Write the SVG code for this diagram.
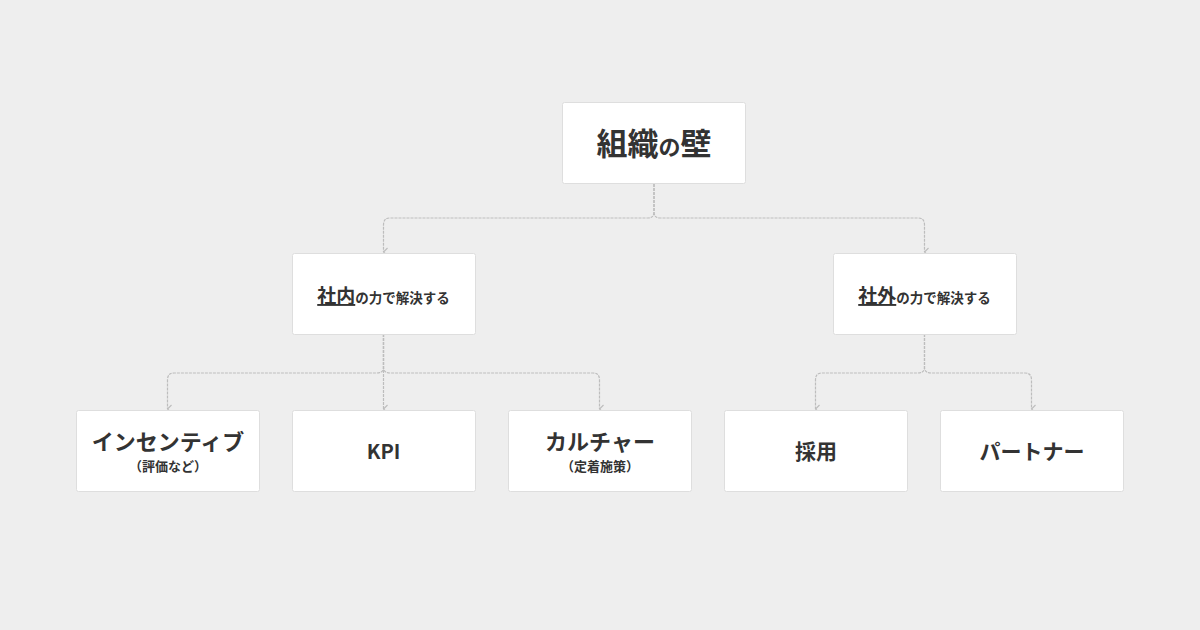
<svg xmlns="http://www.w3.org/2000/svg" width="1200" height="630" viewBox="0 0 1200 630">
<defs>
<style>
.box{fill:#fff;stroke:#dedede;stroke-width:1}
.t{font-family:"Noto Sans CJK JP","Noto Sans",sans-serif;fill:#333;font-weight:700;text-anchor:middle}
.c{fill:none;stroke:#bdbdbd;stroke-width:1.2;stroke-dasharray:3 1}
</style>
<marker id="a" viewBox="0 0 10 10" refX="5" refY="9" markerWidth="10" markerHeight="10" markerUnits="userSpaceOnUse" orient="auto-start-reverse">
<path d="M1,5 L5,9 L9,5" fill="none" stroke="#bdbdbd" stroke-width="1.2"/>
</marker>
</defs>
<rect width="1200" height="630" fill="#eeeeee"/>
<g id="connectors">
<path class="c" d="M654,184 V212 Q654,218 648,218 H390 Q383.5,218 383.5,225 V252" marker-end="url(#a)"/>
<path class="c" d="M654,184 V212 Q654,218 660,218 H918 Q924.5,218 924.5,225 V252" marker-end="url(#a)"/>
<path class="c" d="M383.5,334 V367 Q383.5,373 377,373 H174 Q167.5,373 167.5,380 V409" marker-end="url(#a)"/>
<path class="c" d="M383.5,334 V409" marker-end="url(#a)"/>
<path class="c" d="M383.5,334 V367 Q383.5,373 390,373 H593 Q599.5,373 599.5,380 V409" marker-end="url(#a)"/>
<path class="c" d="M924.5,334 V367 Q924.5,373 918,373 H822 Q815.5,373 815.5,380 V409" marker-end="url(#a)"/>
<path class="c" d="M924.5,334 V367 Q924.5,373 931,373 H1025 Q1031.5,373 1031.5,380 V409" marker-end="url(#a)"/>
</g>
<g id="root">
<rect class="box" x="562.5" y="102.5" width="183" height="81" rx="2"/>
<text class="t" x="654" y="155" font-size="31">組織<tspan font-size="22">の</tspan>壁</text>
</g>
<g id="internal">
<rect class="box" x="292.5" y="253.5" width="183" height="81" rx="2"/>
<text class="t" x="383.5" y="303" font-size="13.5" font-weight="500"><tspan font-size="19" font-weight="700" text-decoration="underline">社内</tspan>の力で解決する</text>
</g>
<g id="external">
<rect class="box" x="833.5" y="253.5" width="183" height="81" rx="2"/>
<text class="t" x="924.5" y="303" font-size="13.5" font-weight="500"><tspan font-size="19" font-weight="700" text-decoration="underline">社外</tspan>の力で解決する</text>
</g>
<g id="incentive">
<rect class="box" x="76.5" y="410.5" width="183" height="81" rx="2"/>
<text class="t" x="168" y="450" font-size="22">インセンティブ</text>
<text class="t" x="168" y="471" font-size="13">（評価など）</text>
</g>
<g id="kpi">
<rect class="box" x="292.5" y="410.5" width="183" height="81" rx="2"/>
<text class="t" x="383.5" y="459" font-size="20">KPI</text>
</g>
<g id="culture">
<rect class="box" x="508.5" y="410.5" width="183" height="81" rx="2"/>
<text class="t" x="600" y="450" font-size="22">カルチャー</text>
<text class="t" x="600" y="471" font-size="13">（定着施策）</text>
</g>
<g id="hiring">
<rect class="box" x="724.5" y="410.5" width="183" height="81" rx="2"/>
<text class="t" x="816" y="459" font-size="21">採用</text>
</g>
<g id="partner">
<rect class="box" x="940.5" y="410.5" width="183" height="81" rx="2"/>
<text class="t" x="1032" y="459" font-size="21">パートナー</text>
</g>
</svg>
